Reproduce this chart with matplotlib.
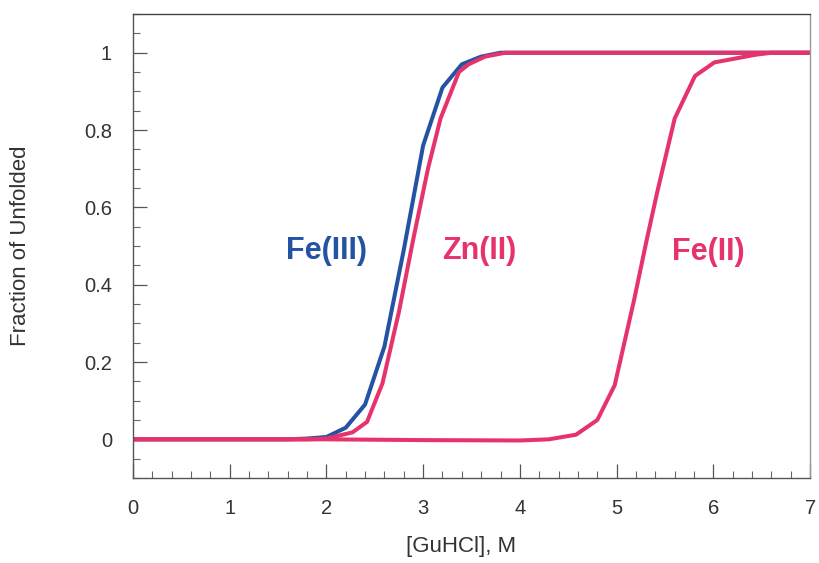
import numpy as np
import matplotlib
matplotlib.use("Agg")
import matplotlib.pyplot as plt
from matplotlib.ticker import MultipleLocator

plt.rcParams['font.family'] = ['Liberation Sans', 'DejaVu Sans']

# datos
gu = [0.0, 1.0, 1.6, 1.8, 2.0, 2.2, 2.4, 2.6, 2.8, 3.0, 3.2, 3.4, 3.6, 3.8, 4.0, 5.0, 6.0, 7.0]
fe3 = [0.0, 0.0, 0.0, 0.002, 0.006, 0.03, 0.09, 0.24, 0.49, 0.76, 0.91, 0.97, 0.99, 1.0, 1.0, 1.0, 1.0, 1.0]

gu_zn = [0.0, 1.0, 1.8, 2.0, 2.27, 2.42, 2.58, 2.75, 2.9, 3.05, 3.18, 3.37, 3.47, 3.64, 3.85, 4.0, 5.0, 7.0]
zn2 = [0.0, 0.0, 0.0, 0.002, 0.018, 0.045, 0.145, 0.33, 0.52, 0.70, 0.83, 0.95, 0.97, 0.99, 1.0, 1.0, 1.0, 1.0]

gu_fe2 = [0.0, 1.0, 2.0, 3.0, 4.0, 4.3, 4.58, 4.8, 4.98, 5.18, 5.31, 5.42, 5.6, 5.81, 6.01, 6.44, 6.6, 7.0]
fe2 = [0.0, 0.0, 0.0, -0.002, -0.003, 0.0, 0.012, 0.05, 0.14, 0.36, 0.515, 0.64, 0.83, 0.94, 0.975, 0.995, 1.0, 1.0]

blue = '#2453a4'
pink = '#e6336b'

fig = plt.figure(figsize=(8.2, 5.63), dpi=100)
ax = fig.add_axes([0.162, 0.151, 0.826, 0.824])

ax.plot(gu, fe3, color=blue, lw=2.9)
ax.plot(gu_fe2, fe2, color=pink, lw=2.9)
ax.plot(gu_zn, zn2, color=pink, lw=2.9)

ax.text(2.0, 0.488, 'Fe(III)', color=blue, fontsize=22, fontweight='bold', ha='center', va='center')
ax.text(3.58, 0.488, 'Zn(II)', color=pink, fontsize=22, fontweight='bold', ha='center', va='center')
ax.text(5.95, 0.485, 'Fe(II)', color=pink, fontsize=22, fontweight='bold', ha='center', va='center')

ax.set_xlim(0, 7)
ax.set_ylim(-0.1, 1.1)
ax.xaxis.set_major_locator(MultipleLocator(1))
ax.xaxis.set_minor_locator(MultipleLocator(0.2))
ax.yaxis.set_minor_locator(MultipleLocator(0.05))
ax.set_yticks([0, 0.2, 0.4, 0.6, 0.8, 1.0])
ax.set_yticklabels(['0', '0.2', '0.4', '0.6', '0.8', '1'])

ax.tick_params(which='major', direction='in', length=10, width=0.9, color='#555555',
               labelsize=14.5, labelcolor='#333333')
ax.tick_params(which='minor', direction='in', length=5, width=0.8, color='#666666')
ax.tick_params(axis='x', which='both', pad=15, top=False)
ax.tick_params(axis='y', which='both', pad=15, right=False)

for s in ['left', 'bottom']:
    ax.spines[s].set_color('#555555')
ax.spines['top'].set_color('#444444')
ax.spines['right'].set_color('#999999')
for s in ax.spines.values():
    s.set_linewidth(1.0)

ax.set_xlabel('[GuHCl], M', fontsize=16, color='#333333')
ax.set_ylabel('Fraction of Unfolded', fontsize=16, color='#333333')
ax.xaxis.set_label_coords(0.484, -0.125)
ax.yaxis.set_label_coords(-0.15, 0.5)

fig.savefig('out.png', dpi=100)
